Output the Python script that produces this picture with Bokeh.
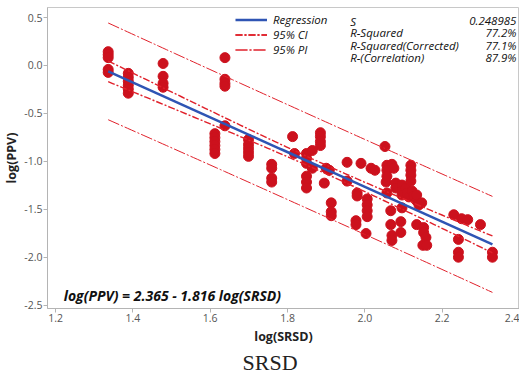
import numpy as np
from bokeh.plotting import figure
from bokeh.models import Label, Legend, LegendItem, Title, Range1d, FixedTicker, PrintfTickFormatter
from bokeh.embed import file_html
from bokeh.resources import INLINE

# ---- data ----
srsd = [1.336]*5 + [1.388]*6 + [1.478]*4 + [1.612]*6 + [1.638]*5 + [1.699]*5 + [1.759]*4 + \
    [1.813, 1.818] + [1.849]*6 + [1.864]*2 + [1.885]*4 + [1.895, 1.900, 1.908] + [1.913]*3 + \
    [1.954]*2 + [1.977]*2 + [1.980]*2 + [1.990, 2.003] + [2.006]*4 + [2.016, 2.026, 2.052, 2.055] + \
    [2.057]*4 + [2.067]*2 + [2.070]*3 + [2.075] + [2.080]*2 + [2.093]*2 + [2.096]*4 + \
    [2.106, 2.109, 2.114] + [2.119]*4 + [2.122, 2.127] + [2.134]*3 + [2.140, 2.147] + \
    [2.150] + [2.152]*2 + [2.158, 2.160] + [2.230, 2.250, 2.266, 2.299] + [2.242]*3 + [2.330]*2
ppv = [0.144, 0.113, 0.082, -0.041, -0.072] + \
    [-0.082, -0.124, -0.165, -0.206, -0.247, -0.289] + \
    [0.021, -0.113, -0.186, -0.227] + \
    [-0.711, -0.753, -0.794, -0.835, -0.876, -0.918] + \
    [0.082, -0.144, -0.186, -0.216, -0.629] + \
    [-0.773, -0.825, -0.866, -0.907, -0.948] + \
    [-1.031, -1.072, -1.175, -1.216] + \
    [-0.742, -0.918] + [-0.918, -0.969, -1.021, -1.155, -1.216, -1.278] + [-0.887, -1.072] + \
    [-0.701, -0.742, -0.794, -0.835] + [-1.227, -1.072, -1.093] + [-1.433, -1.526, -1.567] + \
    [-1.010, -1.206] + [-1.619, -1.660] + [-1.330, -1.361] + [-1.021, -1.753] + \
    [-1.392, -1.454, -1.515, -1.577] + [-1.072, -1.093, -0.845, -1.216] + \
    [-1.041, -1.093, -1.155, -1.330] + [-1.515, -1.660] + [-1.031, -1.773, -1.825] + [-1.072] + \
    [-1.227, -1.278] + [-1.629, -1.742] + [-1.247, -1.309, -1.351, -1.485] + \
    [-1.278, -1.330, -1.371] + [-1.041, -1.093, -1.144, -1.206] + [-1.309, -1.361] + \
    [-1.412, -1.351, -1.660] + [-1.454, -1.433] + [-1.876] + [-1.691, -1.742] + [-1.794, -1.876] + \
    [-1.557, -1.598, -1.608, -1.660] + [-1.814, -1.948, -2.000] + [-1.948, -2.000]

intercept = 2.365
slope = -1.816
s_err = 0.248985
t_crit = 1.98
stat_names = ["S", "R-Squared", "R-Squared(Corrected)", "R-(Correlation)"]
stat_values = ["0.248985", "77.2%", "77.1%", "87.9%"]
equation = "log(PPV) = 2.365 - 1.816 log(SRSD)"
x_ticks = [1.2, 1.4, 1.6, 1.8, 2.0, 2.2, 2.4]
y_ticks = [0.5, 0.0, -0.5, -1.0, -1.5, -2.0, -2.5]

# ---- model lines ----
xa = np.array(srsd)
n = len(xa)
xbar = xa.mean()
sxx = ((xa - xbar) ** 2).sum()
xs = np.linspace(xa.min(), xa.max(), 100)
yfit = intercept + slope * xs
ci = t_crit * s_err * np.sqrt(1.0 / n + (xs - xbar) ** 2 / sxx)
pi = t_crit * s_err * np.sqrt(1.0 + 1.0 / n + (xs - xbar) ** 2 / sxx)

RED = "#cc111d"
LRED = "#e0202a"
BLUE = "#2f55b4"
FONT = "Open Sans"

p = figure(frame_width=472, frame_height=301, output_backend="svg", toolbar_location=None,
           x_range=Range1d(1.179, 2.40), y_range=Range1d(-2.535, 0.605),
           min_border_left=0, min_border_right=0, min_border_top=7, min_border_bottom=0,
           x_axis_label="log(SRSD)", y_axis_label="log(PPV)")
p.xgrid.visible = False
p.ygrid.visible = False
p.outline_line_color = "#c8c8c8"
p.background_fill_color = "white"

for ax in (p.xaxis[0], p.yaxis[0]):
    ax.axis_line_color = "#b4b4b4"
    ax.major_tick_line_color = "#b4b4b4"
    ax.major_tick_out = 4
    ax.major_tick_in = 0
    ax.minor_tick_line_color = None
    ax.major_label_text_font = FONT
    ax.major_label_text_font_size = "10.5px"
    ax.major_label_text_color = "#555555"
    ax.major_label_standoff = 1
    ax.axis_label_text_font = FONT
    ax.axis_label_text_font_size = "12.5px"
    ax.axis_label_text_font_style = "bold"
    ax.axis_label_text_color = "#222222"
    ax.axis_label_standoff = 1
    ax.formatter = PrintfTickFormatter(format="%.1f")
p.xaxis[0].ticker = FixedTicker(ticks=x_ticks)
p.yaxis[0].ticker = FixedTicker(ticks=y_ticks)
p.xaxis[0].axis_label_standoff = 3

p.scatter(srsd, ppv, size=10, color=RED, line_color=RED)

r_reg = p.line(xs, yfit, line_color=BLUE, line_width=2.5)
r_ci1 = p.line(xs, yfit + ci, line_color=LRED, line_width=1.4, line_dash="7 2 2 2")
r_ci2 = p.line(xs, yfit - ci, line_color=LRED, line_width=1.4, line_dash="7 2 2 2")
r_pi1 = p.line(xs, yfit + pi, line_color=LRED, line_width=1, line_dash="12 2 2 2")
r_pi2 = p.line(xs, yfit - pi, line_color=LRED, line_width=1, line_dash="12 2 2 2")

legend = Legend(items=[LegendItem(label="Regression", renderers=[r_reg]),
                       LegendItem(label="95% CI", renderers=[r_ci1, r_ci2]),
                       LegendItem(label="95% PI", renderers=[r_pi1, r_pi2])],
                location=(188, 251), border_line_color=None, background_fill_alpha=0,
                label_text_font=FONT, label_text_font_style="italic", label_text_font_size="11.5px",
                label_text_line_height=1.0,
                label_text_color="#111111", glyph_width=32, glyph_height=11, label_height=11,
                spacing=0, padding=0, margin=0, label_standoff=6)
p.add_layout(legend)

row_y = [0.459, 0.340, 0.206, 0.082]
for name, val, yy in zip(stat_names, stat_values, row_y):
    p.add_layout(Label(x=1.962, y=yy, text=name, text_baseline="middle", text_font=FONT,
                       text_font_style="italic", text_font_size="11.5px", text_color="#111111"))
    p.add_layout(Label(x=2.392, y=yy, text=val, text_baseline="middle", text_align="right",
                       text_font=FONT, text_font_style="italic", text_font_size="11.5px",
                       text_color="#111111"))

p.add_layout(Label(x=1.221, y=-2.402, text=equation, text_baseline="middle", text_font=FONT,
                   text_font_style="bold italic", text_font_size="14px", text_color="#111111"))

p.add_layout(Title(text="SRSD", align="left", offset=195, standoff=0, text_font="Liberation Serif",
                   text_font_size="22px", text_font_style="normal", text_color="#222222"), "below")

open("out.html", "w").write(file_html(p, INLINE))
